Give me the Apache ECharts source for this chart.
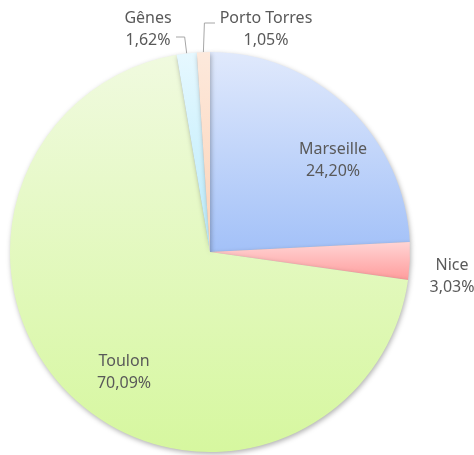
<!DOCTYPE html>
<html>
<head>
<meta charset="utf-8">
<script src="https://cdn.jsdelivr.net/npm/echarts@6/dist/echarts.min.js"></script>
<style>
  html, body { margin: 0; padding: 0; background: #fff; }
  #chart { width: 474px; height: 455px; }
</style>
</head>
<body>
<div id="chart"></div>
<script>
const ports = ['Marseille', 'Nice', 'Toulon', 'Gênes', 'Porto Torres']
const shares = [24.20, 3.03, 70.09, 1.62, 1.05]

// gradient stops per slice (top -> bottom)
const sliceColors = [
  ['#e0e9fc', '#a3c1f8'],
  ['#ffd4d4', '#ff9c9c'],
  ['#f0fadf', '#d6f79f'],
  ['#e6f8ff', '#b9ebfb'],
  ['#fde9dc', '#fcd2b6']
]

// label centres, as Excel placed them
const labelPos = [
  [333, 160],
  [452, 276],
  [124, 372],
  [148, 29],
  [266, 29]
]

const chart = echarts.init(document.getElementById('chart'))

const fmt = (v) => v.toFixed(2).replace('.', ',') + '%'

// elbow leader lines for the two thin slices at the top
const leader = (i, anchor) => {
  const [lx, ly] = labelPos[i]
  if (i === 3) return [anchor, [anchor[0] - 2, ly + 8], [lx + 28, ly + 8]]
  if (i === 4) return [anchor, [anchor[0] + 1, ly - 6], [lx - 51, ly - 6]]
  return null
}

const option = {
  animation: false,
  series: [
    {
      type: 'pie',
      center: [210, 252],
      radius: [0, 200],
      startAngle: 90,
      clockwise: true,
      data: ports.map((name, i) => ({
        name,
        value: shares[i],
        itemStyle: {
          color: new echarts.graphic.LinearGradient(0, 0, 0, 1, [
            { offset: 0, color: sliceColors[i][0] },
            { offset: 1, color: sliceColors[i][1] }
          ])
        },
        labelLine: { show: i >= 3 }
      })),
      itemStyle: {
        borderWidth: 0,
        shadowBlur: 5,
        shadowOffsetX: 1,
        shadowOffsetY: 2,
        shadowColor: 'rgba(0,0,0,0.3)'
      },
      label: {
        show: true,
        position: 'outside',
        formatter: (p) => p.name + '\n' + fmt(p.value),
        fontFamily: 'Noto Sans',
        fontSize: 16,
        lineHeight: 22,
        color: '#595959',
        align: 'center',
        overflow: 'none'
      },
      labelLine: {
        show: true,
        length: 8,
        length2: 6,
        lineStyle: { color: '#a6a6a6', width: 1 }
      },
      labelLayout: (params) => {
        const i = params.dataIndex
        const pos = labelPos[i]
        const out = {
          x: pos[0],
          y: pos[1],
          align: 'center',
          verticalAlign: 'middle'
        }
        if (params.labelLinePoints) {
          const pts = leader(i, params.labelLinePoints[0])
          if (pts) out.labelLinePoints = pts
        }
        return out
      },
      emphasis: { disabled: true }
    }
  ]
}

chart.setOption(option)
</script>
</body>
</html>
